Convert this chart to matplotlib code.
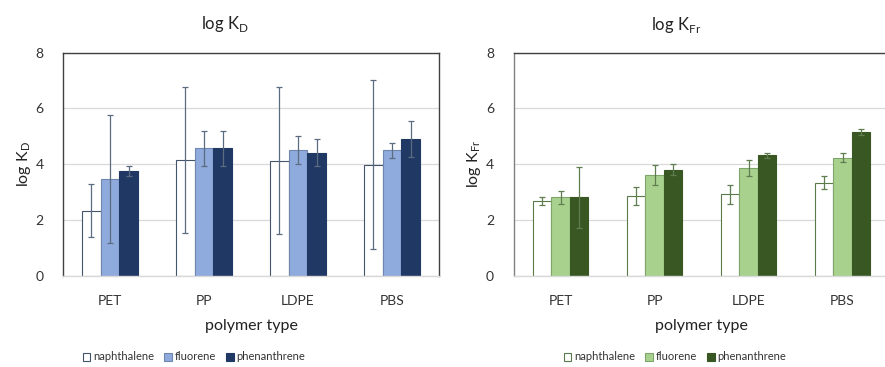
import matplotlib.pyplot as plt
import numpy as np
from matplotlib.patches import Patch

plt.rcParams['font.family'] = ['Lato', 'DejaVu Sans']

polymers = ["PET", "PP", "LDPE", "PBS"]
compounds = ["naphthalene", "fluorene", "phenanthrene"]

# log KD per compound (rows) and polymer (columns), with standard deviations
log_kd = [
    [2.34, 4.16, 4.13, 3.99],
    [3.47, 4.57, 4.50, 4.50],
    [3.76, 4.57, 4.41, 4.90],
]
log_kd_err = [
    [0.95, 2.62, 2.64, 3.01],
    [2.28, 0.62, 0.50, 0.27],
    [0.17, 0.62, 0.49, 0.64],
]

# log KFr per compound (rows) and polymer (columns), with standard deviations
log_kfr = [
    [2.67, 2.87, 2.93, 3.34],
    [2.81, 3.62, 3.87, 4.24],
    [2.81, 3.81, 4.32, 5.16],
]
log_kfr_err = [
    [0.14, 0.33, 0.34, 0.23],
    [0.23, 0.36, 0.29, 0.17],
    [1.08, 0.21, 0.10, 0.11],
]

blue_fill = ["white", "#8FAADC", "#203864"]
blue_edge = ["#44546A", "#6F86AE", "#203864"]
green_fill = ["white", "#A9D18E", "#385723"]
green_edge = ["#5A7A4A", "#7FA56A", "#385723"]

fig = plt.figure(figsize=(8.85, 3.67), dpi=100)
ax1 = fig.add_axes([63 / 885, 1 - 276 / 367, 376 / 885, 223.5 / 367])
ax2 = fig.add_axes([513.5 / 885, 1 - 276 / 367, 376 / 885, 223.5 / 367])


def bar_panel(ax, values, errs, fills, edges, errcolor, left_spine, ylab):
    x = np.arange(len(polymers))
    w = 0.197
    for i in range(len(compounds)):
        ax.bar(x + (i - 1) * w, values[i], w, color=fills[i], edgecolor=edges[i],
               linewidth=0.8, zorder=2)
        ax.errorbar(x + (i - 1) * w, values[i], yerr=errs[i], fmt="none",
                    ecolor=errcolor, elinewidth=0.9, capsize=2.5, capthick=0.9, zorder=3)
    ax.set_xlim(-0.5, 3.5)
    ax.set_ylim(0, 8)
    ax.set_yticks([0, 2, 4, 6, 8])
    ax.set_xticks(x)
    ax.set_xticklabels(polymers, fontsize=9.5, color="#333333")
    ax.tick_params(axis="both", length=0, colors="#333333", labelsize=10)
    ax.tick_params(axis="x", pad=14)
    ax.tick_params(axis="y", pad=14)
    ax.yaxis.grid(True, color="#D9D9D9", linewidth=0.9, zorder=0)
    ax.set_axisbelow(True)
    ax.spines["top"].set_color("#404040")
    ax.spines["right"].set_color("#404040")
    ax.spines["left"].set_color(left_spine)
    ax.spines["bottom"].set_color("#D9D9D9")
    for s in ax.spines.values():
        s.set_linewidth(1.0)
    ax.set_xlabel("polymer type", fontsize=11.5, color="#222222", labelpad=8)
    ax.set_ylabel(ylab, fontsize=11.5, color="#222222", labelpad=2)


bar_panel(ax1, log_kd, log_kd_err, blue_fill, blue_edge, "#5B6B80", "#404040",
          r"log K$_\mathregular{D}$")
bar_panel(ax2, log_kfr, log_kfr_err, green_fill, green_edge, "#5F7D4F", "#808080",
          r"log K$_\mathregular{Fr}$")

fig.text(225 / 885, 1 - 24 / 367, r"log K$_\mathregular{D}$", ha="center", va="center",
         fontsize=12, color="#222222")
fig.text(676 / 885, 1 - 25 / 367, r"log K$_\mathregular{Fr}$", ha="center", va="center",
         fontsize=12, color="#222222")

for fills, edges, cx in [(blue_fill, blue_edge, 194), (green_fill, green_edge, 675)]:
    handles = [Patch(facecolor=fills[i], edgecolor=edges[i], linewidth=0.8)
               for i in range(len(compounds))]
    fig.legend(handles, compounds, loc="center", bbox_to_anchor=(cx / 885, 1 - 357 / 367),
               ncol=3, frameon=False, fontsize=8, handlelength=0.7, handleheight=0.7,
               handletextpad=0.25, columnspacing=0.9, labelcolor="#333333")

fig.savefig("out.png", dpi=100)
